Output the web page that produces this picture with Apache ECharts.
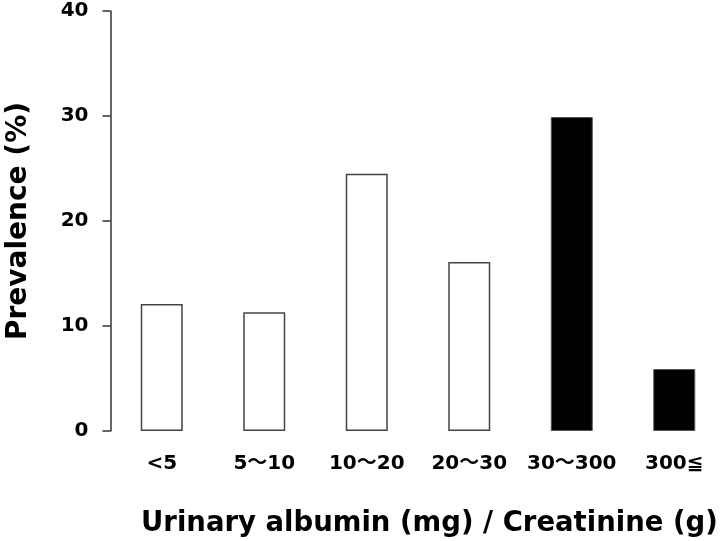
<!DOCTYPE html>
<html><head><meta charset="utf-8">
<script src="https://cdn.jsdelivr.net/npm/echarts@6/dist/echarts.min.js"></script>
<style>html,body{margin:0;padding:0;background:#fff;overflow:hidden}#c{width:726px;height:541px}</style>
</head><body><div id="c"></div>
<script>
const categories = ['<5', '5～10', '10～20', '20～30', '30～300', '300≦'];
const prevalence = [12.1, 11.3, 24.5, 16.1, 29.9, 5.9];
const filled = [false, false, false, false, true, true];
const yTicks = { min: 0, max: 40, interval: 10 };
const yName = 'Prevalence (%)';
const xName = 'Urinary albumin (mg) / Creatinine (g)';

const FONT = 'DejaVu Sans, Noto Sans CJK JP, sans-serif';
const chart = echarts.init(document.getElementById('c'), null, { renderer: 'canvas' });
chart.setOption({
  animation: false,
  backgroundColor: '#fff',
  title: {
    text: xName, left: 136, top: 505,
    textStyle: { fontFamily: FONT, fontWeight: 'bold', fontSize: 27.5, color: '#000' }
  },
  grid: { left: 110.5, top: 11, width: 615, height: 420, containLabel: false, outerBoundsMode: 'none' },
  xAxis: {
    type: 'category', data: categories,
    axisLine: { show: false }, axisTick: { show: false },
    axisLabel: { interval: 0, margin: 23, color: '#000', fontFamily: FONT, fontWeight: 'bold', fontSize: 20 }
  },
  yAxis: {
    type: 'value', min: yTicks.min, max: yTicks.max, interval: yTicks.interval,
    name: yName, nameLocation: 'middle', nameGap: 78, nameRotate: 90,
    nameTextStyle: { fontFamily: FONT, fontWeight: 'bold', fontSize: 28, color: '#000' },
    axisLine: { show: true, lineStyle: { color: '#333', width: 1.5 } },
    axisTick: { show: true, length: 8, lineStyle: { color: '#333', width: 1.5 } },
    axisLabel: { margin: 22, color: '#000', fontFamily: FONT, fontWeight: 'bold', fontSize: 20 },
    splitLine: { show: false }
  },
  series: [{
    type: 'bar', barWidth: 42,
    data: prevalence.map((v, i) => ({
      value: v,
      itemStyle: filled[i]
        ? { color: '#000', borderColor: '#555', borderWidth: 1 }
        : { color: '#fff', borderColor: '#444', borderWidth: 1.5 }
    }))
  }]
});
</script></body></html>
